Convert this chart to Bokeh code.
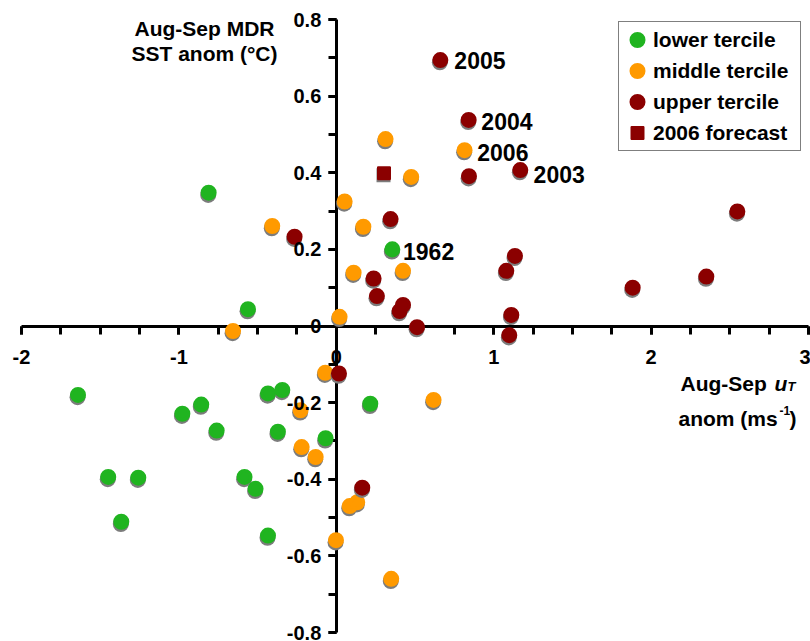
from bokeh.plotting import figure
from bokeh.models import (Range1d, FixedTicker, LinearAxis, Label, Legend,
                          LegendItem, ColumnDataSource)
from bokeh.transform import dodge
from bokeh.embed import file_html
from bokeh.resources import INLINE

# ---------------- data ----------------
lower_x = [-0.811, -0.561, 0.356, -1.641, -0.978, -0.858, -0.760, -1.449, -1.258,
           -1.366, -0.434, -0.343, -0.371, -0.068, 0.216, -0.583, -0.513, -0.434]
lower_y = [0.348, 0.044, 0.200, -0.180, -0.229, -0.205, -0.273, -0.394, -0.396,
           -0.511, -0.176, -0.167, -0.276, -0.293, -0.203, -0.394, -0.425, -0.547]

middle_x = [0.313, 0.476, 0.815, 0.053, 0.172, -0.407, 0.110, 0.424, 0.021, -0.656,
            -0.070, -0.227, -0.220, -0.131, 0.618, 0.085, 0.133, -0.002, 0.349]
middle_y = [0.488, 0.389, 0.459, 0.325, 0.259, 0.261, 0.139, 0.144, 0.024, -0.013,
            -0.122, -0.220, -0.316, -0.342, -0.193, -0.470, -0.460, -0.559, -0.660]

upper_x = [0.661, 0.841, 0.843, 1.169, 0.345, -0.265, 0.237, 0.258, 0.402, 0.424,
           0.513, 1.135, 1.080, 1.112, 1.099, 2.548, 2.351, 1.883, 0.017, 0.165]
upper_y = [0.694, 0.538, 0.391, 0.407, 0.279, 0.233, 0.124, 0.078, 0.039, 0.055,
           -0.003, 0.183, 0.144, 0.029, -0.024, 0.299, 0.129, 0.100, -0.124, -0.422]

forecast_x = [0.303]
forecast_y = [0.399]

annot_years = ["2005", "2004", "2006", "2003", "1962"]
annot_x = [upper_x[0], upper_x[1], middle_x[2], upper_x[3], lower_x[2]]
annot_y = [upper_y[0], upper_y[1], middle_y[2], upper_y[3], lower_y[2]]

x_ticks = [-2, -1, 0, 1, 2, 3]
x_tick_labels = ["-2", "-1", "0", "1", "2", "3"]
x_minor = [-2 + 0.25 * i for i in range(21)]
y_ticks = [-0.8, -0.6, -0.4, -0.2, 0, 0.2, 0.4, 0.6, 0.8]
y_tick_labels = ["-0.8", "-0.6", "-0.4", "-0.2", "0", "0.2", "0.4", "0.6", "0.8"]
y_minor = [round(-0.8 + 0.1 * i, 2) for i in range(17)]

legend_labels = ["lower tercile", "middle tercile", "upper tercile", "2006 forecast"]

# ---------------- style ----------------
GREEN = "#20b420"
ORANGE = "#ff9a00"
RED = "#8b0000"
SHADOW = "#7c7c7c"
FONT = "Liberation Sans"

W, H = 810, 641
PX_X, PX_Y = 157.4, 383.125          # pixels per data unit
LEFT, TOP = 21, 19                   # page position of (-2, 0.8)

x_range = Range1d(-2 - LEFT / PX_X, -2 + (W - LEFT) / PX_X)
y_range = Range1d(0.8 - (H - TOP) / PX_Y, 0.8 + TOP / PX_Y)

p = figure(width=W, height=H, x_range=x_range, y_range=y_range,
           output_backend="svg", toolbar_location=None,
           x_axis_type=None, y_axis_type=None, min_border=0)
p.grid.visible = False
p.outline_line_color = None
p.background_fill_color = "white"
p.border_fill_color = "white"


def line_axis(ticks, minor, bounds):
    return LinearAxis(fixed_location=0, bounds=bounds,
                      ticker=FixedTicker(ticks=ticks, minor_ticks=minor),
                      axis_line_width=3, axis_line_color="black",
                      major_tick_line_width=3, minor_tick_line_width=3,
                      major_tick_in=0, major_tick_out=8, minor_tick_in=0, minor_tick_out=8,
                      major_label_text_color=None, level="underlay")


def label_axis(ticks, labels, standoff, bounds):
    return LinearAxis(fixed_location=0, bounds=bounds,
                      ticker=FixedTicker(ticks=ticks, minor_ticks=[]),
                      axis_line_color=None, major_tick_line_color=None,
                      minor_tick_line_color=None, major_tick_in=0, major_tick_out=0,
                      minor_tick_in=0, minor_tick_out=0,
                      major_label_standoff=standoff,
                      major_label_overrides={t: l for t, l in zip(ticks, labels)},
                      major_label_text_font=FONT, major_label_text_font_style="bold",
                      major_label_text_font_size="20px", major_label_text_color="black",
                      level="guide")


p.add_layout(line_axis(x_ticks, x_minor, (-2, 3)), "below")
p.add_layout(line_axis(y_ticks, y_minor, (-0.8, 0.8)), "left")
p.add_layout(label_axis(x_ticks, x_tick_labels, 24, (-2, 3)), "below")
p.add_layout(label_axis(y_ticks, y_tick_labels, 15, (-0.8, 0.8)), "left")

# points with drop shadow (visible diameter = size + line width)
series_r = []
for xs, ys, col in [(lower_x, lower_y, GREEN), (middle_x, middle_y, ORANGE),
                    (upper_x, upper_y, RED)]:
    src = ColumnDataSource(dict(x=xs, y=ys))
    p.scatter(x=dodge("x", -0.003), y=dodge("y", -0.0058), source=src, size=16,
              fill_color=SHADOW, line_color=None)
    series_r.append(p.scatter(x="x", y="y", source=src, size=12.4, fill_color=col,
                              line_color=col, line_width=3.6))

fsrc = ColumnDataSource(dict(x=forecast_x, y=forecast_y))
p.scatter(x=dodge("x", -0.003), y=dodge("y", -0.0058), source=fsrc, marker="square",
          size=14, fill_color=SHADOW, line_color=None)
series_r.append(p.scatter(x="x", y="y", source=fsrc, marker="square", size=12.4,
                          fill_color=RED, line_color=RED, line_width=1.6))

# year annotations
offsets = [(14, 0), (12.7, -1.7), (12.7, -2.4), (13.3, -4.7), (10.7, -1.7)]
for yr, ax_, ay_, (dx, dy) in zip(annot_years, annot_x, annot_y, offsets):
    p.add_layout(Label(x=ax_, y=ay_, x_offset=dx, y_offset=dy, text=yr,
                       text_font=FONT, text_font_style="bold", text_font_size="23px",
                       text_color="black", text_align="left", text_baseline="alphabetic"))


# axis titles (positions converted from page pixels to data coordinates)
def dx_(px):
    return -2 + (px - LEFT) / PX_X


def dy_(py):
    return 0.8 - (py - TOP) / PX_Y


def title(text, px, py, size="21px", style="bold", align="left"):
    p.add_layout(Label(x=dx_(px), y=dy_(py), text=text, text_font=FONT,
                       text_font_style=style, text_font_size=size, text_color="black",
                       text_align=align, text_baseline="alphabetic"))


title("Aug-Sep MDR", 204, 28, align="center")
title("SST anom (°C)", 204, 53, align="center")
title("Aug-Sep ", 680, 383)
title("u", 774, 383, style="bold italic")
title("T", 787, 386, size="13px", style="bold italic")
title("anom (ms", 678, 418)
title("-1", 779, 410, size="12px")
title(")", 789, 418)

legend = Legend(items=[LegendItem(label=l, renderers=[r])
                       for l, r in zip(legend_labels, series_r)],
                location=(618, H - 151), margin=0, padding=2, spacing=0,
                glyph_width=32, glyph_height=31, label_height=31, label_width=145,
                label_standoff=0, border_line_color="black", border_line_width=1.5,
                background_fill_color="white", background_fill_alpha=1,
                label_text_font=FONT, label_text_font_style="bold",
                label_text_font_size="21px", label_text_color="black")
p.add_layout(legend)

open("out.html", "w").write(file_html(p, INLINE))
